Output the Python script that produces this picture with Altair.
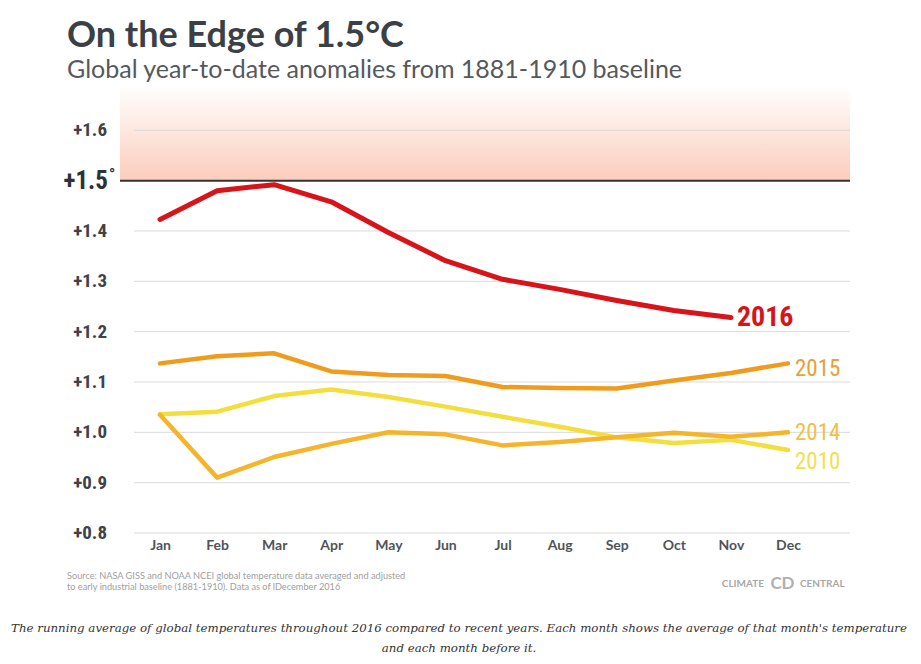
import altair as alt
import pandas as pd

MONTHS = ["Jan", "Feb", "Mar", "Apr", "May", "Jun", "Jul", "Aug", "Sep", "Oct", "Nov", "Dec"]
Y2016 = [1.423, 1.480, 1.492, 1.458, 1.397, 1.341, 1.304, 1.284, 1.262, 1.242, 1.228]
Y2015 = [1.137, 1.151, 1.157, 1.121, 1.114, 1.112, 1.090, 1.088, 1.087, 1.103, 1.118, 1.137]
Y2014 = [1.035, 0.910, 0.951, 0.977, 1.000, 0.996, 0.974, 0.981, 0.990, 0.999, 0.991, 1.000]
Y2010 = [1.036, 1.041, 1.072, 1.085, 1.070, 1.051, 1.031, 1.011, 0.990, 0.979, 0.985, 0.965]
TICKS = [0.8, 0.9, 1.0, 1.1, 1.2, 1.3, 1.4, 1.6]
GRID = [0.8, 0.9, 1.0, 1.1, 1.2, 1.3, 1.4, 1.6]
THRESHOLD = 1.5

TITLE = "On the Edge of 1.5°C"
SUBTITLE = "Global year-to-date anomalies from 1881-1910 baseline"
SOURCE1 = "Source: NASA GISS and NOAA NCEI global temperature data averaged and adjusted"
SOURCE2 = "to early industrial baseline (1881-1910). Data as of lDecember 2016"
CAPTION1 = ("The running average of global temperatures throughout 2016 compared to recent years. "
            "Each month shows the average of that month's temperature")
CAPTION2 = "and each month before it."

W, H = 730, 448
COND = "Roboto Condensed, Liberation Sans Narrow, DejaVu Sans Condensed, sans-serif"
SANS = "Lato, Open Sans, sans-serif"

yscale = alt.Scale(domain=[0.8, 1.69], nice=False, zero=False)
xscale = alt.Scale(domain=[1, 12], range=[40, 668])
label_expr = "[" + ",".join("'%s'" % m for m in MONTHS) + "][datum.value - 1]"
xaxis = alt.Axis(values=list(range(1, 13)), labelExpr=label_expr, grid=False,
                 domain=False, ticks=False, labelPadding=5, labelFontSize=14,
                 labelFont=SANS, labelFontWeight="bold", labelColor="#505458",
                 labelFlush=False, labelOverlap=False, title=None)

one = pd.DataFrame({"a": [0]})

shade = alt.Chart(one).mark_rect(
    color=alt.Gradient(gradient="linear", x1=0, x2=0, y1=1, y2=0,
                       stops=[alt.GradientStop(offset=0, color="#fbcdbc"),
                              alt.GradientStop(offset=0.5, color="#fde6dd"),
                              alt.GradientStop(offset=1, color="#ffffff")])
).encode(
    y=alt.Y("datum_th:Q", scale=yscale, axis=None),
    y2=alt.value(0),
    x=alt.value(0), x2=alt.value(W),
).transform_calculate(datum_th=str(THRESHOLD))

grid = alt.Chart(pd.DataFrame({"v": GRID})).mark_rule(color="#dadada", strokeWidth=1).encode(
    y=alt.Y("v:Q", scale=yscale, axis=None), x=alt.value(14), x2=alt.value(W))

thr = alt.Chart(pd.DataFrame({"v": [THRESHOLD]})).mark_rule(color="#333333", strokeWidth=2).encode(
    y=alt.Y("v:Q", scale=yscale, axis=None), x=alt.value(0), x2=alt.value(W))

tick_df = pd.DataFrame({"v": TICKS, "lab": ["+%.1f" % t for t in TICKS]})
ylabels = alt.Chart(tick_df).mark_text(
    align="right", baseline="middle", font=COND, fontWeight="bold", fontSize=19, color="#3f4247"
).encode(y=alt.Y("v:Q", scale=yscale, axis=None), x=alt.value(-13), text="lab:N")

big_df = pd.DataFrame({"v": [THRESHOLD], "lab": ["+%.1f" % THRESHOLD], "deg": ["°"]})
biglab = alt.Chart(big_df).mark_text(
    align="right", baseline="middle", font=COND, fontWeight="bold", fontSize=25, color="#2e3135"
).encode(y=alt.Y("v:Q", scale=yscale, axis=None), x=alt.value(-12), text="lab:N")
deglab = alt.Chart(big_df).mark_text(
    align="left", baseline="middle", font=COND, fontWeight="bold", fontSize=16, color="#2e3135", dy=-6
).encode(y=alt.Y("v:Q", scale=yscale, axis=None), x=alt.value(-11), text="deg:N")

series = [
    ("2010", Y2010, "#f2df3e", "#f1e04f", 4.5, 23, "normal", 7, 12),
    ("2014", Y2014, "#f4b52c", "#efbf4a", 4.5, 23, "normal", 7, 1),
    ("2015", Y2015, "#ef9c1e", "#e8a136", 4.5, 23, "normal", 7, 6),
    ("2016", Y2016, "#d8141b", "#d8141b", 5, 28, "bold", 6, 0),
]

layers = [shade, grid, thr, ylabels, biglab, deglab]
for name, vals, col, lcol, sw, fs, fw, dx, dy in series:
    df = pd.DataFrame({"m": list(range(1, len(vals) + 1)), "v": vals, "year": name})
    line = alt.Chart(df).mark_line(color=col, strokeWidth=sw, strokeCap="round", strokeJoin="round").encode(
        x=alt.X("m:Q", scale=xscale, axis=xaxis), y=alt.Y("v:Q", scale=yscale, axis=None))
    end = df.tail(1)
    lab = alt.Chart(end).mark_text(
        align="left", baseline="middle", font=COND, fontSize=fs, fontWeight=fw, color=lcol, dx=dx, dy=dy
    ).encode(x=alt.X("m:Q", scale=xscale, axis=xaxis), y=alt.Y("v:Q", scale=yscale, axis=None),
             text="year:N")
    layers += [line, lab]


def txt(s, x, y, **kw):
    return alt.Chart(pd.DataFrame({"t": [s]})).mark_text(**kw).encode(
        x=alt.value(x), y=alt.value(y), text="t:N")


layers += [
    txt(TITLE, -53, -38, align="left", baseline="alphabetic", font=SANS, fontSize=36,
        fontWeight="bold", color="#3b4046"),
    txt(SUBTITLE, -53, -7, align="left", baseline="alphabetic", font=SANS, fontSize=25,
        color="#55595e"),
    txt(SOURCE1, -53, 494, align="left", baseline="alphabetic", font=SANS, fontSize=9.2, color="#a0a0a0"),
    txt(SOURCE2, -53, 505, align="left", baseline="alphabetic", font=SANS, fontSize=9.2, color="#a0a0a0"),
    txt("CLIMATE", 644, 499, align="right", baseline="middle", font=SANS, fontSize=10,
        fontWeight="bold", color="#a8a8a8"),
    txt("CENTRAL", 680, 499, align="left", baseline="middle", font=SANS, fontSize=10,
        fontWeight="bold", color="#a8a8a8"),
    txt("C", 656, 499, align="center", baseline="middle", font=SANS, fontSize=17,
        fontWeight="bold", color="#b0b0b0"),
    txt("D", 668, 499, align="center", baseline="middle", font=SANS, fontSize=17,
        fontWeight="bold", color="#b0b0b0"),
    txt(CAPTION1, 339, 547, align="center", baseline="alphabetic", font="DejaVu Serif", fontSize=11.8,
        fontStyle="italic", color="#333333"),
    txt(CAPTION2, 339, 567, align="center", baseline="alphabetic", font="DejaVu Serif", fontSize=11.8,
        fontStyle="italic", color="#333333"),
]

chart = alt.layer(*layers).properties(
    width=W, height=H, autosize="none",
    padding={"left": 112, "top": 77, "right": 62, "bottom": 121},
    background="white",
).configure_view(strokeWidth=0)

chart.save("out.html", embed_options={"renderer": "svg", "actions": False})
